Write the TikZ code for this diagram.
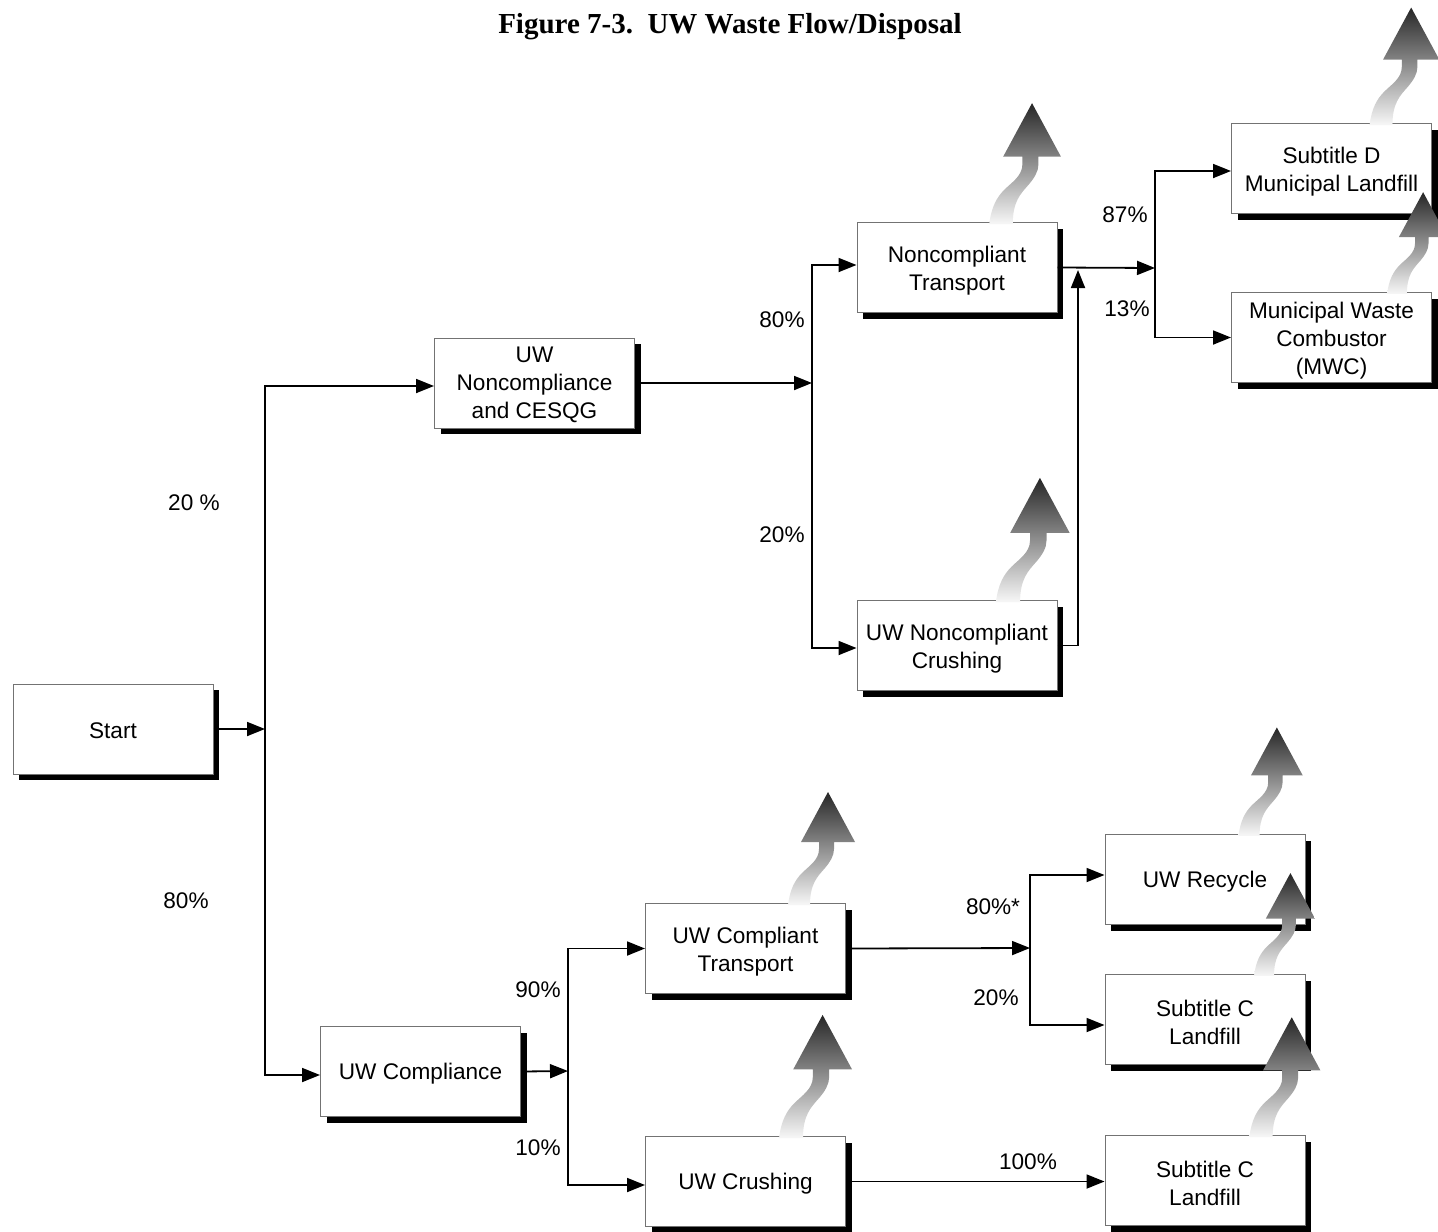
\documentclass[tikz,border=0pt]{standalone}
\usepackage{fontspec}
\setmainfont{Liberation Sans}
\newfontfamily\titlefont{Liberation Serif}
\usetikzlibrary{arrows.meta,shadows,calc}
\begin{document}
\begin{tikzpicture}[x=0.5pt,y=-0.5pt,
  box/.style={rectangle, draw=black!55, line width=0.5pt, fill=white,
    minimum width=100pt, minimum height=45pt, inner sep=0pt,
    drop shadow={shadow xshift=3pt, shadow yshift=-3pt, opacity=1, fill=black}},
  btext/.style={align=center, inner sep=0pt, font=\fontsize{11.3}{14}\selectfont},
  lbl/.style={font=\fontsize{11.3}{14}\selectfont, inner sep=0pt},
  conn/.style={line width=0.9pt},
  tip/.style={Triangle[length=9pt,width=7pt]},
  arr/.style={conn, -{Triangle[length=9pt,width=7pt]}},
  darr/.style={conn, {Triangle[length=9pt,width=7pt]}-{Triangle[length=9pt,width=7pt]}},
  fume/.pic={
    \shade[bottom color=black!3, top color=black!85]
      (-11,1) .. controls (-9,-15) and (-4,-24) .. (3,-31)
      .. controls (10,-38) and (20,-44) .. (20,-55) -- (20,-62)
      -- (2,-62) -- (29,-112) -- (56,-62) -- (35,-62) -- (35,-55)
      .. controls (35,-48) and (31,-42) .. (26,-36)
      .. controls (18,-27) and (11,-20) .. (11,1) -- cycle;
  }]
\useasboundingbox (0,0) rectangle (1438,1231);

% title
\node[font=\titlefont\bfseries\fontsize{14.5}{17}\selectfont, inner sep=0pt] (title) at (730,27) {Figure 7-3.\ \ UW Waste Flow/Disposal};

% boxes
\node[box] (start) at (113,729) {};
\node[box] (ncq) at (534.5,383) {};
\node[box] (nct) at (957,267.5) {};
\node[box] (ncc) at (957,645.5) {};
\node[box] (sd) at (1331.5,168.5) {};
\node[box] (mwc) at (1331.5,337.5) {};
\node[box] (uwc) at (420.5,1071.5) {};
\node[box] (uct) at (745.5,948.5) {};
\node[box] (ucr) at (745.5,1181.5) {};
\node[box] (rec) at (1205,879.5) {};
\node[box] (sc1) at (1205,1019.5) {};
\node[box] (sc2) at (1205,1180.5) {};

% box texts
\node[btext] (start-t) at ([yshift=-1pt]start) {Start};
\node[btext] (ncq-t) at ([yshift=-1pt]ncq) {UW\\Noncompliance\\and CESQG};
\node[btext] (nct-t) at ([yshift=-1.5pt]nct) {Noncompliant\\Transport};
\node[btext] (ncc-t) at ([yshift=-1.5pt]ncc) {UW Noncompliant\\Crushing};
\node[btext] (sd-t) at ([yshift=-1.5pt]sd) {Subtitle D\\Municipal Landfill};
\node[btext] (mwc-t) at ([yshift=-1.5pt]mwc) {Municipal Waste\\Combustor\\(MWC)};
\node[btext] (uwc-t) at ([yshift=-1pt]uwc) {UW Compliance};
\node[btext] (uct-t) at ([yshift=-1.5pt]uct) {UW Compliant\\Transport};
\node[btext] (ucr-t) at ([yshift=-1pt]ucr) {UW Crushing};
\node[btext] (rec-t) at ([yshift=-1pt]rec) {UW Recycle};
\node[btext] (sc1-t) at ([yshift=-1.5pt]sc1) {Subtitle C\\Landfill};
\node[btext] (sc2-t) at ([yshift=-1.5pt]sc2) {Subtitle C\\Landfill};

% junctions
\coordinate (j1) at (265,729);
\coordinate (j2) at (812,383);
\coordinate (j3) at (1155,268);
\coordinate (j4) at (568,1071);
\coordinate (j5) at (1030,948);
\coordinate (k1) at (1078,270);

% connectors
\draw[arr] (start.east) -- (j1);
\draw[darr] ([yshift=-1.5pt]ncq.west) -| (j1) |- ([yshift=-1.75pt]uwc.west);

\draw[arr] (ncq.east) -- (j2);
\draw[darr] ([yshift=1.25pt]nct.west) -| (j2) |- ([yshift=-1.25pt]ncc.west);

\draw[arr] (nct.east) -- (j3);
\draw[darr] ([yshift=-1.25pt]sd.west) -| (j3) |- (mwc.west);

\draw[arr] (ncc.east) -| (k1);

\draw[arr] (uwc.east) -- (j4);
\draw[darr] (uct.west) -| (j4) |- ([yshift=-1.75pt]ucr.west);

\draw[arr] (uct.east) -- (j5);
\draw[darr] ([yshift=2.25pt]rec.west) -| (j5) |- ([yshift=-2.75pt]sc1.west);

\draw[arr] (ucr.east) -- (ucr.east -| sc2.west);

% labels
\node[lbl] (l1) at (194,503) {20 \%};
\node[lbl] (l2) at (186,901) {80\%};
\node[lbl] (l3) at (782,320) {80\%};
\node[lbl] (l4) at (782,535) {20\%};
\node[lbl] (l5) at (1125,215) {87\%};
\node[lbl] (l6) at (1127,309) {13\%};
\node[lbl] (l7) at (538,990) {90\%};
\node[lbl] (l8) at (538,1148) {10\%};
\node[lbl] (l9) at (993,907) {80\%*};
\node[lbl] (l10) at (996,998) {20\%};
\node[lbl] (l11) at (1028,1162) {100\%};

% emission arrows
\pic[scale=1.07] at (1001,223) {fume};
\pic[scale=1.1] at (1008,601) {fume};
\pic[scale=1.04] at (1381,124) {fume};
\pic[scale=0.9] at (1397,293) {fume};
\pic at (799,904) {fume};
\pic[scale=1.09] at (791,1137) {fume};
\pic[scale=0.96] at (1249,835) {fume};
\pic[scale=0.91] at (1264,975) {fume};
\pic[scale=1.06] at (1261,1136) {fume};
\end{tikzpicture}
\end{document}
